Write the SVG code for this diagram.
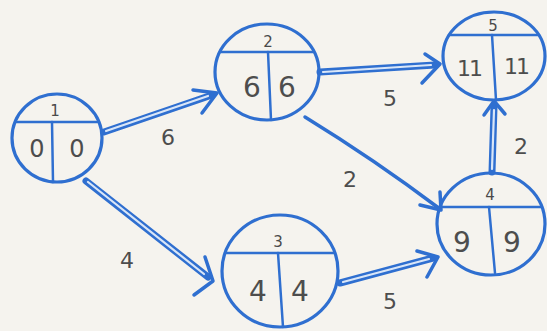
<svg xmlns="http://www.w3.org/2000/svg" width="547" height="331" viewBox="0 0 547 331">
  <style>
    .ring { fill: none; stroke: #2f6fd0; stroke-width: 3.2; }
    .div { fill: none; stroke: #2f6fd0; stroke-width: 2.5; stroke-linecap: round; }
    .id { font-family: "DejaVu Sans", sans-serif; font-size: 15px; fill: #4a4a4a; text-anchor: middle; }
    .val { font-family: "DejaVu Sans", sans-serif; font-size: 28px; fill: #4d4d4d; text-anchor: middle; }
    .w { font-family: "DejaVu Sans", sans-serif; font-size: 22px; fill: #4d4d4d; text-anchor: middle; }
    .outer { fill: none; stroke: #2f6fd0; stroke-width: 7; stroke-linecap: round; }
    .inner { fill: none; stroke: #d9e6f8; stroke-width: 2.2; stroke-linecap: round; }
    .single { fill: none; stroke: #2f6fd0; stroke-width: 3.5; stroke-linecap: round; }
    .head { fill: none; stroke: #2f6fd0; stroke-width: 3.5; stroke-linecap: round; stroke-linejoin: round; }
  </style>
  <rect width="547" height="331" fill="#f5f3ee"/>

  <g id="connectors">
    <!-- 1 -> 2 -->
    <path class="outer" d="M104 132 L212 95"/>
    <path class="inner" d="M106 131 L208 96"/>
    <polyline class="head" points="193,90 217,93 202,113"/>
    <!-- 1 -> 3 -->
    <path class="outer" d="M86 181 L208 277"/>
    <path class="inner" d="M88 182 L204 274"/>
    <polyline class="head" points="205,257 213,281 194,295"/>
    <!-- 2 -> 5 -->
    <path class="outer" d="M320 72 L435 65"/>
    <path class="inner" d="M323 72 L431 65"/>
    <polyline class="head" points="425,54 440,64 422,83"/>
    <!-- 2 -> 4 -->
    <path class="single" d="M305 117 Q375 160 440 209"/>
    <polyline class="head" points="420,205 441,210 440,192"/>
    <!-- 3 -> 4 -->
    <path class="outer" d="M340 283 L433 258"/>
    <path class="inner" d="M343 282 L429 259"/>
    <polyline class="head" points="417,251 438,257 427,277"/>
    <!-- 4 -> 5 -->
    <path class="outer" d="M492 172 L494 107"/>
    <path class="inner" d="M492 169 L494 110"/>
    <polyline class="head" points="484,115 494,101 505,114"/>
    <!-- weights -->
    <text class="w" x="168" y="145">6</text>
    <text class="w" x="127" y="268">4</text>
    <text class="w" x="390" y="106">5</text>
    <text class="w" x="350" y="187">2</text>
    <text class="w" x="390" y="309">5</text>
    <text class="w" x="521" y="154">2</text>
  </g>

  <g id="node1">
    <ellipse class="ring" cx="57" cy="138" rx="45" ry="44"/>
    <line class="div" x1="16" y1="122" x2="99" y2="122"/>
    <line class="div" x1="52" y1="122" x2="53" y2="182"/>
    <text class="id" x="55" y="116">1</text>
    <text class="val" x="37" y="157" style="font-size:24px">0</text>
    <text class="val" x="77" y="157" style="font-size:24px">0</text>
  </g>

  <g id="node2">
    <ellipse class="ring" cx="267" cy="72" rx="52" ry="48"/>
    <line class="div" x1="220" y1="52" x2="314" y2="52"/>
    <line class="div" x1="268" y1="52" x2="271" y2="120"/>
    <text class="id" x="268" y="47">2</text>
    <text class="val" x="252" y="97">6</text>
    <text class="val" x="287" y="97">6</text>
  </g>

  <g id="node3">
    <ellipse class="ring" cx="280" cy="271" rx="58" ry="56"/>
    <line class="div" x1="225" y1="253" x2="335" y2="253"/>
    <line class="div" x1="278" y1="253" x2="283" y2="327"/>
    <text class="id" x="278" y="247">3</text>
    <text class="val" x="258" y="301">4</text>
    <text class="val" x="300" y="301">4</text>
  </g>

  <g id="node4">
    <ellipse class="ring" cx="491" cy="224" rx="54" ry="51"/>
    <line class="div" x1="440" y1="207" x2="542" y2="207"/>
    <line class="div" x1="489" y1="207" x2="495" y2="273"/>
    <text class="id" x="490" y="200">4</text>
    <text class="val" x="462" y="252">9</text>
    <text class="val" x="512" y="252">9</text>
  </g>

  <g id="node5">
    <ellipse class="ring" cx="494" cy="56" rx="51" ry="44"/>
    <line class="div" x1="449" y1="35" x2="539" y2="35"/>
    <line class="div" x1="492" y1="35" x2="496" y2="100"/>
    <text class="id" x="493" y="31">5</text>
    <text class="val" x="469" y="76" style="font-size:22px;letter-spacing:-2px">11</text>
    <text class="val" x="516" y="74" style="font-size:22px;letter-spacing:-2px">11</text>
  </g>
</svg>
